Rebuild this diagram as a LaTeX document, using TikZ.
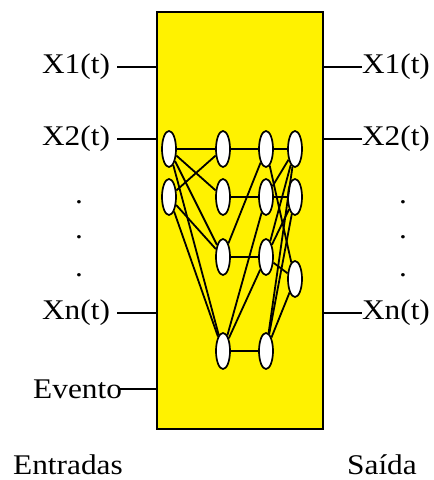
\documentclass[tikz,border=0pt]{standalone}
\usepackage{fontspec}
\setmainfont{Liberation Serif}
\usepackage{xcolor}
\usetikzlibrary{positioning,shapes}

\begin{document}
\begin{tikzpicture}[
    x=1pt, y=-1pt,
    netbox/.style={draw, line width=1.8pt, fill=yellow, minimum width=166pt, minimum height=417pt, inner sep=0pt},
    neuron/.style={ellipse, draw, line width=1.7pt, fill=white, minimum width=14pt, minimum height=36pt, inner sep=0pt},
    lbl/.style={inner sep=0pt, outer sep=0pt, xscale=1.1, font=\fontsize{28.5}{30}\selectfont},
    wire/.style={line width=1.4pt},
    link/.style={line width=1.8pt}
]
\useasboundingbox (0,0) rectangle (434,480);

% caixa da rede
\node[netbox] (net) at (240,220.5) {};

% entradas
\node[lbl, anchor=east] (x1l) at (110,67) {X1(t)};
\node[lbl, anchor=east] (x2l) at (110,139) {X2(t)};
\node[lbl, anchor=east] (xnl) at (110,313) {Xn(t)};
\node[lbl, anchor=east] (ev)  at (122,389) {Evento};
\foreach \y [count=\i] in {203,238,276}
    \node[lbl, anchor=base] (dl\i) at (79,\y) {.};
\foreach \n in {x1l,x2l,xnl}
    \draw[wire] ([xshift=7pt]\n.east) -- (\n.east -| net.west);
\draw[wire] ([xshift=-4pt]ev.east) -- (ev.east -| net.west);

% saidas
\node[lbl, anchor=west] (x1r) at (362,67) {X1(t)};
\node[lbl, anchor=west] (x2r) at (362,139) {X2(t)};
\node[lbl, anchor=west] (xnr) at (362,313) {Xn(t)};
\foreach \y [count=\i] in {203,238,276}
    \node[lbl, anchor=base] (dr\i) at (403,\y) {.};
\foreach \n in {x1r,x2r,xnr}
    \draw[wire] (\n.west -| net.east) -- (\n.west);

% neuronios
\node[neuron] (a1) at (169,149) {};
\node[neuron] (a2) at (169,197) {};
\foreach \y [count=\i] in {149,197,257,351} {
    \node[neuron] (b\i) at (223,\y) {};
    \node[neuron] (c\i) at (266,\y) {};
}
\node[neuron] (d1) at (295,149) {};
\node[neuron] (d2) at (295,197) {};
\node[neuron] (d3) at (295,279) {};

% ligacoes
\foreach \s/\t in {a1/b1,a1/b2,a1/b3,a1/b4,a2/b1,a2/b3,a2/b4,
                   b1/c1,b2/c2,b3/c3,b4/c4,b3/c1,b4/c2,b4/c3,
                   c1/d1,c1/d3,c2/d1,c2/d2,c3/d1,c3/d2,c3/d3,
                   c4/d1,c4/d2,c4/d3}
    \draw[link] (\s) -- (\t);

% rotulos de baixo
\node[lbl] (ent) at (68,465) {Entradas};
\node[lbl] (sai) at (382,465) {Saída};
\end{tikzpicture}
\end{document}
